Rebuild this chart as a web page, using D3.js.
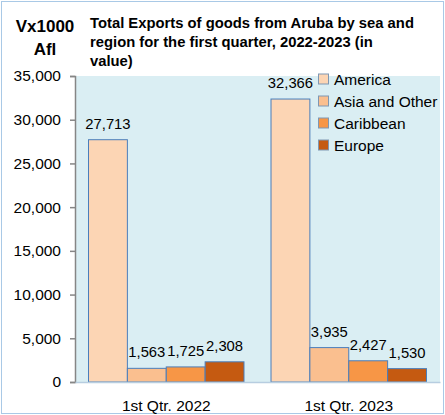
<!DOCTYPE html>
<html lang="en">
<head>
    <meta charset="utf-8" />
    <title>Total Exports of goods from Aruba by sea and region</title>
    <script src="https://d3js.org/d3.v7.min.js"></script>
    <style>
        body { margin: 0; background: #fff; }
        text { font-family: 'Liberation Sans', Arial, sans-serif; fill: #000; }
    </style>
</head>
<body>
    <script>
        // Data
        const categories = ["1st Qtr. 2022", "1st Qtr. 2023"];
        const regions = ["America", "Asia and Other", "Caribbean", "Europe"];
        const america = [27713, 32366];
        const asiaOther = [1563, 3935];
        const caribbean = [1725, 2427];
        const europe = [2308, 1530];
        const yTicks = [0, 5000, 10000, 15000, 20000, 25000, 30000, 35000];
        const titleLines = ["Total Exports of goods from Aruba by sea and",
            "region for the first quarter, 2022-2023 (in",
            "value)"];

        const seriesValues = [america, asiaOther, caribbean, europe];
        const colors = ["#fcd5b4", "#fabf8f", "#f79646", "#c55a11"];

        const width = 445, height = 415;
        const plot = { left: 75, right: 440, top: 76, bottom: 382 };

        const svg = d3.select("body").append("svg")
            .attr("width", width)
            .attr("height", height);

        // Outer chart border
        svg.append("rect")
            .attr("x", 1.5).attr("y", 1.5)
            .attr("width", width - 3).attr("height", height - 3)
            .attr("fill", "#fff")
            .attr("stroke", "#a9c9e6");

        // Plot background
        svg.append("rect")
            .attr("x", plot.left).attr("y", plot.top)
            .attr("width", plot.right - plot.left)
            .attr("height", plot.bottom - plot.top)
            .attr("fill", "#daeef3");

        const y = d3.scaleLinear().domain([0, 35000]).range([plot.bottom, plot.top]);
        const x0 = d3.scaleBand().domain(categories)
            .range([plot.left, plot.right]).paddingInner(0.148).paddingOuter(0.074);
        const x1 = d3.scaleBand().domain(regions).range([0, x0.bandwidth()]);

        // Bars
        const groups = svg.selectAll("g.cat")
            .data(categories)
            .join("g")
            .attr("class", "cat")
            .attr("transform", d => `translate(${x0(d)},0)`);

        groups.selectAll("rect")
            .data((c, ci) => regions.map((r, ri) => ({ r, ri, v: seriesValues[ri][ci] })))
            .join("rect")
            .attr("x", d => x1(d.r))
            .attr("y", d => y(d.v))
            .attr("width", x1.bandwidth())
            .attr("height", d => plot.bottom - y(d.v))
            .attr("fill", d => colors[d.ri])
            .attr("stroke", "#4a7ebb")
            .attr("stroke-width", 1);

        groups.selectAll("text.val")
            .data((c, ci) => regions.map((r, ri) => ({ r, ri, v: seriesValues[ri][ci] })))
            .join("text")
            .attr("class", "val")
            .attr("x", d => x1(d.r) + x1.bandwidth() / 2)
            .attr("y", d => y(d.v) - 11)
            .attr("text-anchor", "middle")
            .style("font-size", "14.8px")
            .text(d => d3.format(",")(d.v));

        // Y axis
        const yAxis = d3.axisLeft(y).tickValues(yTicks)
            .tickFormat(d3.format(",")).tickSize(5).tickPadding(9);
        const yg = svg.append("g")
            .attr("transform", `translate(${plot.left},0)`)
            .call(yAxis);
        yg.select(".domain").attr("stroke", "#868686").attr("stroke-width", 1.5);
        yg.selectAll(".tick line").attr("stroke", "#868686").attr("stroke-width", 1.5);
        yg.selectAll(".tick text")
            .style("font-size", "15.5px")
            .attr("fill", "#000");

        // X axis
        const xAxis = d3.axisBottom(x0).tickSize(0).tickPadding(18);
        const xg = svg.append("g")
            .attr("transform", `translate(0,${plot.bottom})`)
            .call(xAxis);
        xg.select(".domain").attr("stroke", "#b7cde0").attr("stroke-width", 1.5);
        xg.selectAll(".tick text")
            .style("font-size", "15.5px")
            .attr("fill", "#000");

        // Title
        svg.append("text")
            .attr("x", 90).attr("y", 28)
            .style("font-size", "14.8px")
            .style("font-weight", "bold")
            .selectAll("tspan")
            .data(titleLines)
            .join("tspan")
            .attr("x", 90)
            .attr("dy", (d, i) => i === 0 ? 0 : 19)
            .text(d => d);

        // Y unit label
        svg.append("text")
            .attr("x", 45).attr("y", 32)
            .attr("text-anchor", "middle")
            .style("font-size", "17px")
            .style("font-weight", "bold")
            .text("Vx1000");
        svg.append("text")
            .attr("x", 45).attr("y", 55)
            .attr("text-anchor", "middle")
            .style("font-size", "17px")
            .style("font-weight", "bold")
            .text("Afl");

        // Legend
        const legend = svg.append("g").attr("transform", "translate(318,79)");
        const items = legend.selectAll("g")
            .data(regions)
            .join("g")
            .attr("transform", (d, i) => `translate(0,${i * 22})`);
        items.append("rect")
            .attr("x", 0.5).attr("y", -5)
            .attr("width", 10).attr("height", 10)
            .attr("fill", (d, i) => colors[i])
            .attr("stroke", "#7e97b3");
        items.append("text")
            .attr("x", 16).attr("y", 0)
            .attr("dy", "0.36em")
            .style("font-size", "15.5px")
            .text(d => d);
    </script>
</body>
</html>
